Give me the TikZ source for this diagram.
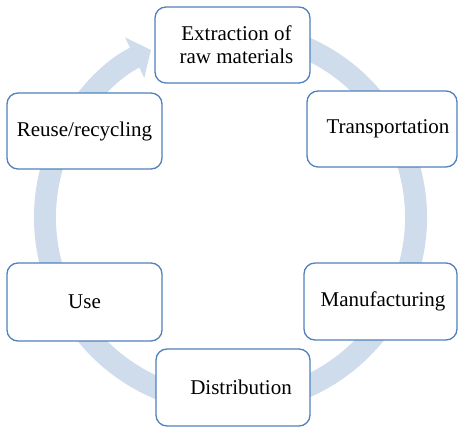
\documentclass[tikz,border=0pt]{standalone}
\usepackage{fontspec}
\setmainfont{Liberation Serif}
\usetikzlibrary{arrows.meta,calc}
\definecolor{ringblue}{RGB}{207,220,236}
\definecolor{boxblue}{RGB}{79,129,189}
\begin{document}
\begin{tikzpicture}[x=1pt,y=1pt,
  stagebox/.style={draw=boxblue, line width=1.3pt, rounded corners=11pt, fill=white,
    minimum width=155pt, minimum height=76pt, align=center,
    font=\fontsize{21}{23}\selectfont, inner sep=0pt},
  cyclearrow/.style={draw=ringblue, line width=22pt, -{Triangle[width=44pt,length=18pt]}}]
\useasboundingbox (0,0) rectangle (458,428);
\coordinate (c) at (230.5,210.5);
\coordinate (ringstart) at ($(c)+(70:185.5pt)$);
\draw[cyclearrow] (ringstart) arc[start angle=70, end angle=-244.6, radius=185.5pt];
\node[stagebox] (ext) at (232.5,383) {\hspace*{8pt}Extraction of\\\hspace*{8pt}raw materials};
\node[stagebox] (reu) at (84.5,297) {Reuse/recycling};
\node[stagebox, minimum width=150pt] (tra) at (382,299) {\hspace*{12pt}Transportation};
\node[stagebox, minimum height=78pt] (use) at (84.5,126) {Use};
\node[stagebox, minimum width=154pt, minimum height=77pt] (dis) at (233,40.5) {\raisebox{-4pt}{\hspace*{16pt}Distribution}};
\node[stagebox, minimum width=153pt, minimum height=77pt] (man) at (380.5,126.5) {\hspace*{5pt}Manufacturing};
\end{tikzpicture}
\end{document}
